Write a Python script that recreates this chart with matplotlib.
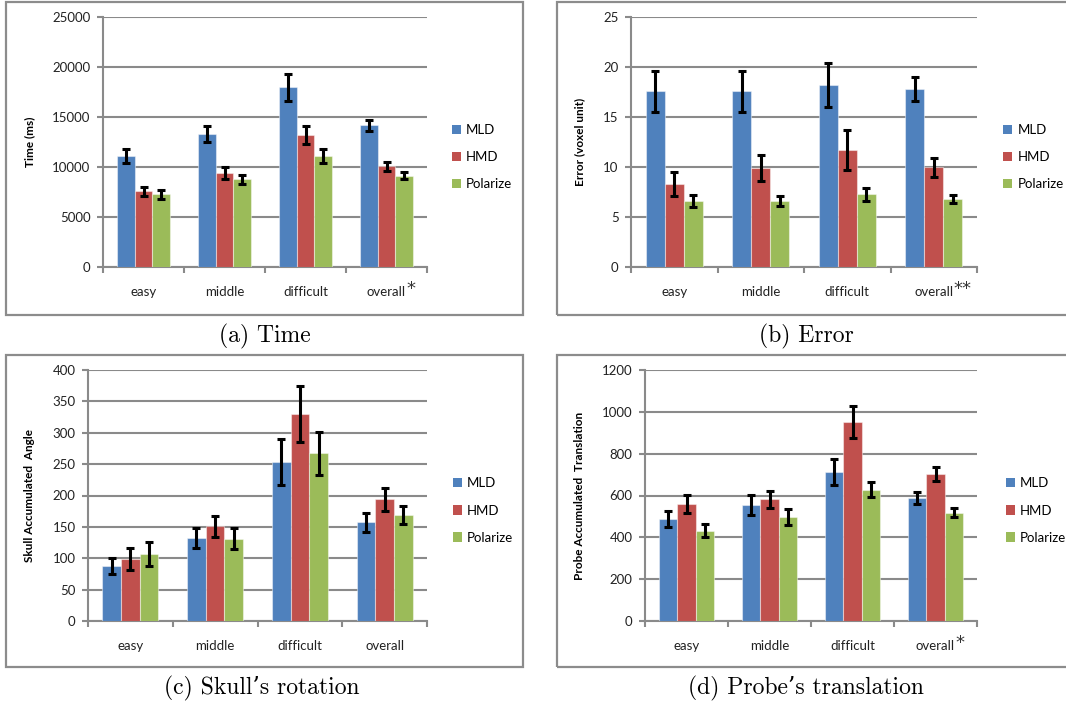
import numpy as np
import matplotlib
matplotlib.use("Agg")
import matplotlib.pyplot as plt
from matplotlib.patches import Rectangle, Patch

plt.rcParams['font.family'] = ['Lato', 'DejaVu Sans']

categories = ["easy", "middle", "difficult", "overall"]
methods = ["MLD", "HMD", "Polarize"]
colors = ["#4F81BD", "#C0504D", "#9BBB59"]

# (a) Time (ms)
time_mean = {"MLD": [11100, 13300, 17950, 14150],
             "HMD": [7550, 9400, 13200, 10050],
             "Polarize": [7250, 8750, 11100, 9100]}
time_err = {"MLD": [700, 800, 1350, 580],
            "HMD": [450, 600, 870, 450],
            "Polarize": [420, 480, 720, 350]}

# (b) Error (voxel unit)
error_mean = {"MLD": [17.55, 17.55, 18.2, 17.75],
              "HMD": [8.3, 9.85, 11.7, 9.95],
              "Polarize": [6.6, 6.6, 7.25, 6.8]}
error_err = {"MLD": [2.05, 2.05, 2.2, 1.2],
             "HMD": [1.2, 1.3, 2.0, 0.95],
             "Polarize": [0.6, 0.5, 0.68, 0.4]}

# (c) Skull accumulated angle
skull_mean = {"MLD": [88, 132, 253, 157],
              "HMD": [99, 151, 330, 194],
              "Polarize": [107, 131, 267, 169]}
skull_err = {"MLD": [13, 16, 37, 15],
             "HMD": [17, 17, 44, 18],
             "Polarize": [19, 17, 34, 14]}

# (d) Probe accumulated translation
probe_mean = {"MLD": [488, 556, 712, 588],
              "HMD": [560, 582, 952, 702],
              "Polarize": [432, 498, 628, 518]}
probe_err = {"MLD": [37, 47, 62, 28],
             "HMD": [44, 40, 75, 33],
             "Polarize": [30, 37, 35, 20]}

# significance marks after the "overall" label (a, b, c, d)
stars = ["*", "**", "", "*"]

W, H = 1066, 706
fig = plt.figure(figsize=(W / 100, H / 100), dpi=100)

GRID = "#8a8a8a"


def px_rect(l, t, r, b):
    return [l / W, 1 - b / H, (r - l) / W, (b - t) / H]


def draw_panel(rect, means, errs, ymax, ystep, ylabel, label_x, legend_x):
    ax = fig.add_axes(rect)
    x = np.arange(len(categories))
    w = 0.22
    for i, m in enumerate(methods):
        xs = x + (i - 1) * w
        ax.bar(xs, means[m], width=w, color=colors[i],
               edgecolor=(1, 1, 1, 0.45), linewidth=0.8, zorder=3)
        ax.errorbar(xs, means[m], yerr=errs[m], fmt='none', ecolor='black',
                    elinewidth=2.2, capsize=2.6, capthick=2.2, zorder=4)
    ax.set_xlim(-0.5, len(categories) - 0.5)
    ax.set_ylim(0, ymax)
    ax.set_yticks(np.arange(0, ymax + ystep / 2, ystep))
    ax.yaxis.grid(True, color=GRID, linewidth=1.5, zorder=0)
    ax.set_axisbelow(True)
    for s in ["top", "right"]:
        ax.spines[s].set_visible(False)
    for s in ["left", "bottom"]:
        ax.spines[s].set_color(GRID)
        ax.spines[s].set_linewidth(1.5)
    ax.set_xticks(np.arange(-0.5, len(categories)), minor=False)
    ax.set_xticklabels([])
    ax.set_xticks(x, minor=True)
    ax.set_xticklabels(categories, minor=True)
    ax.tick_params(axis='x', which='major', length=4, width=1.5, color=GRID, direction='out')
    ax.tick_params(axis='x', which='minor', length=0, pad=14, labelsize=9.5, labelcolor="#222222")
    ax.tick_params(axis='y', length=4, width=1.5, color=GRID, pad=5, labelsize=9.5,
                   labelcolor="#222222")
    ax.set_ylabel(ylabel, fontsize=8.5, fontweight='bold')
    ax.yaxis.set_label_coords(label_x, 0.5)
    handles = [Patch(facecolor=c, edgecolor='none') for c in colors]
    ax.legend(handles, methods, loc='center left', bbox_to_anchor=(legend_x, 0.44),
              frameon=False, fontsize=9.5, handlelength=0.7, handleheight=0.7,
              handletextpad=0.4, labelspacing=1.15, borderaxespad=0)
    return ax


axes = [
    draw_panel(px_rect(103, 17, 427, 267), time_mean, time_err, 25000, 5000,
               "Time (ms)", -0.21, 1.06),
    draw_panel(px_rect(631, 17, 977, 267), error_mean, error_err, 25, 5,
               "Error (voxel unit)", -0.133, 1.06),
    draw_panel(px_rect(88, 370, 427, 621), skull_mean, skull_err, 400, 50,
               "Skull Accumulated  Angle", -0.156, 1.06),
    draw_panel(px_rect(645, 370, 977, 621), probe_mean, probe_err, 1200, 200,
               "Probe Accumulated  Translation", -0.18, 1.07),
]

fig.canvas.draw()
renderer = fig.canvas.get_renderer()
for ax, st in zip(axes, stars):
    if not st:
        continue
    lab = ax.xaxis.get_minorticklabels()[-1]
    bb = lab.get_window_extent(renderer)
    fig.text((bb.x1 + 0.5) / W, (bb.y1 + 6) / H, st, ha='left', va='top',
             fontsize=13, color="#333333", family='DejaVu Sans')

# panel frames
for (l, t, r, b) in [(6, 2, 523, 315), (557, 2, 1080, 315),
                     (6, 355, 523, 667), (557, 355, 1080, 667)]:
    fig.patches.append(Rectangle((l / W, 1 - b / H), (r - l) / W, (b - t) / H,
                                 transform=fig.transFigure, fill=False,
                                 edgecolor="#8c8c8c", linewidth=1.6))

captions = [(265, 336, "(a) Time"), (806, 336, "(b) Error"),
            (262, 688, "(c) Skull\u2019s rotation"), (806, 688, "(d) Probe\u2019s translation")]
for cx, cy, txt in captions:
    fig.text(cx / W, 1 - cy / H, txt, ha='center', va='center',
             fontsize=17, family=['cmr10', 'DejaVu Serif'])

fig.savefig("out.png", dpi=100)
